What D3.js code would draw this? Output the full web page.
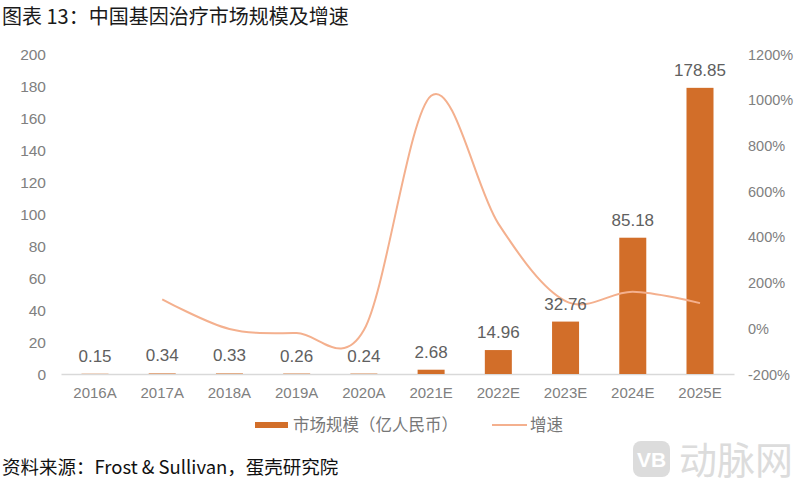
<!DOCTYPE html>
<html>
<head>
<meta charset="utf-8">
<script src="https://cdn.jsdelivr.net/npm/d3@7"></script>
<style>
  body { margin: 0; background: #fff; }
  text { font-family: "Liberation Sans", Arial, sans-serif; }
  text.cjk { font-family: "Noto Sans CJK SC", sans-serif; }
</style>
</head>
<body>
<svg id="chart" width="800" height="487"></svg>
<script>
// categories and values
var years = ['2016A', '2017A', '2018A', '2019A', '2020A', '2021E', '2022E', '2023E', '2024E', '2025E'];
var marketSize = [0.15, 0.34, 0.33, 0.26, 0.24, 2.68, 14.96, 32.76, 85.18, 178.85];
// growth rate in %, first year has none
var growth = [null, 127, -3, -21, -8, 1017, 458, 119, 160, 110];
var leftTicks = [0, 20, 40, 60, 80, 100, 120, 140, 160, 180, 200];
var rightTicks = [-200, 0, 200, 400, 600, 800, 1000, 1200];

var barColor = '#D26E29';
var lineColor = '#F4B08E';
var tickColor = '#808080';

var svg = d3.select('#chart');

var xc = d3.scalePoint().domain(years).range([95, 700]);
var y = d3.scaleLinear().domain([0, 200]).range([374, 54]);
var y2 = d3.scaleLinear().domain([-200, 1200]).range([374, 54]);

// title
svg.append('text').attr('class', 'cjk')
  .attr('x', 2).attr('y', 24)
  .attr('font-size', 20).attr('fill', '#1a1a1a')
  .text('图表 13：中国基因治疗市场规模及增速');

// left axis labels
svg.selectAll('.lt').data(leftTicks).enter().append('text')
  .attr('x', 46).attr('y', function(d) { return y(d) + 5.5; })
  .attr('text-anchor', 'end').attr('font-size', 15.5).attr('fill', tickColor)
  .text(function(d) { return d; });

// right axis labels
svg.selectAll('.rt').data(rightTicks).enter().append('text')
  .attr('x', 748).attr('y', function(d) { return y2(d) + 5.5; })
  .attr('font-size', 14.5).attr('fill', tickColor)
  .text(function(d) { return d + '%'; });

// x axis line
svg.append('line')
  .attr('x1', 61.5).attr('x2', 734.5)
  .attr('y1', y(0) + 0.5).attr('y2', y(0) + 0.5)
  .attr('stroke', '#d9d9d9').attr('stroke-width', 1.5);

// x labels
svg.selectAll('.xl').data(years).enter().append('text')
  .attr('x', function(d) { return xc(d); }).attr('y', 398)
  .attr('text-anchor', 'middle').attr('font-size', 15).attr('fill', tickColor)
  .text(function(d) { return d; });

// bars
svg.selectAll('.bar').data(marketSize).enter().append('rect')
  .attr('x', function(d, i) { return xc(years[i]) - 13.5; })
  .attr('width', 27)
  .attr('y', function(d) { return y(d); })
  .attr('height', function(d) { return y(0) - y(d); })
  .attr('fill', barColor);

// growth line, smoothed like the original
var line = d3.line()
  .defined(function(d) { return d != null; })
  .x(function(d, i) { return xc(years[i]); })
  .y(function(d) { return y2(d); })
  .curve(d3.curveCardinal.tension(0));

svg.append('path').datum(growth)
  .attr('d', line)
  .attr('fill', 'none').attr('stroke', lineColor).attr('stroke-width', 2);

// bar value labels
svg.selectAll('.vl').data(marketSize).enter().append('text')
  .attr('x', function(d, i) { return xc(years[i]); })
  .attr('y', function(d) { return y(d) - 12; })
  .attr('text-anchor', 'middle').attr('font-size', 17).attr('fill', '#606060')
  .text(function(d) { return d.toFixed(2); });

// legend
var lg = svg.append('g');
lg.append('rect').attr('x', 255).attr('y', 422).attr('width', 33).attr('height', 6).attr('fill', barColor);
lg.append('text').attr('class', 'cjk').attr('x', 293).attr('y', 431)
  .attr('font-size', 16.5).attr('fill', '#777').text('市场规模（亿人民币）');
lg.append('line').attr('x1', 492).attr('x2', 527).attr('y1', 425).attr('y2', 425)
  .attr('stroke', lineColor).attr('stroke-width', 2);
lg.append('text').attr('class', 'cjk').attr('x', 530).attr('y', 431)
  .attr('font-size', 16.5).attr('fill', '#777').text('增速');

// source
svg.append('text').attr('class', 'cjk')
  .attr('x', 2).attr('y', 474)
  .attr('font-size', 18.5).attr('fill', '#111')
  .text('资料来源：Frost & Sullivan，蛋壳研究院');

// watermark
var wm = svg.append('g');
wm.append('rect').attr('x', 633).attr('y', 441).attr('width', 37).attr('height', 36).attr('rx', 8)
  .attr('fill', '#dcdcdc');
wm.append('text').attr('x', 651.5).attr('y', 467).attr('text-anchor', 'middle')
  .attr('font-size', 21).attr('font-weight', 'bold').attr('fill', '#fff').text('VB');
wm.append('text').attr('class', 'cjk').attr('x', 679).attr('y', 474)
  .attr('font-size', 38).attr('fill', '#dcdcdc').text('动脉网');
</script>
</body>
</html>
